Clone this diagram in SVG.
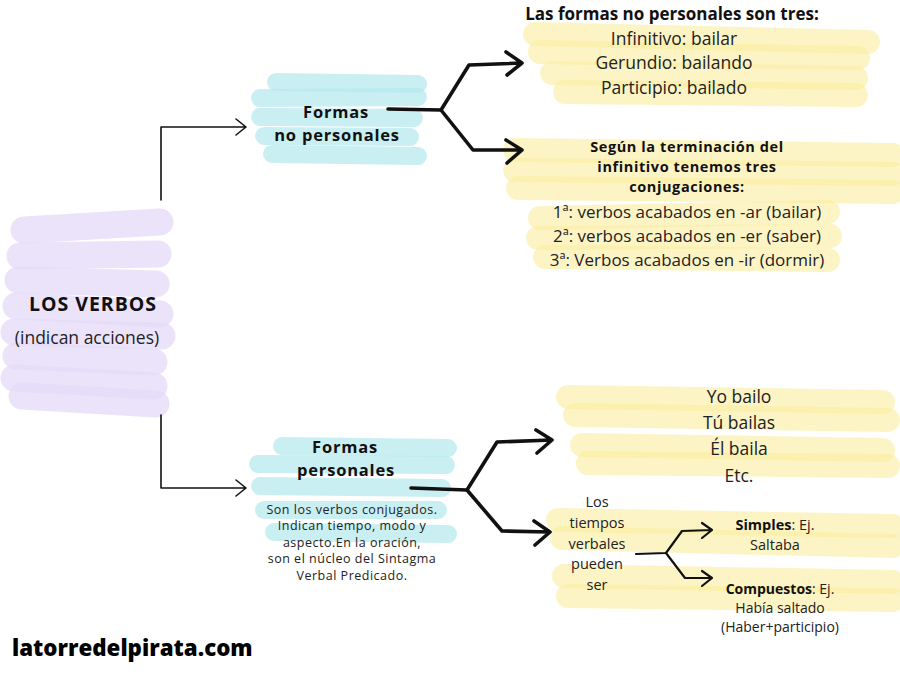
<svg xmlns="http://www.w3.org/2000/svg" width="900" height="675" viewBox="0 0 900 675">
<style>
text{font-family:"Open Sans","Liberation Sans",sans-serif;fill:#222;text-anchor:middle}
.b{font-weight:700;fill:#111}
.hp line{stroke:#e6ddf8;stroke-width:27;stroke-linecap:round;opacity:.8}
.hb line{stroke:#b5e9ef;stroke-width:18;stroke-linecap:round;opacity:.7}
.hy line{stroke:#fcee9f;stroke-width:24;stroke-linecap:round;opacity:.6}
.thin{fill:none;stroke:#111;stroke-width:1.6;stroke-linecap:round;stroke-linejoin:round}
.thick{fill:none;stroke:#111;stroke-width:3.6;stroke-linecap:round;stroke-linejoin:round}
.med{fill:none;stroke:#111;stroke-width:2.2;stroke-linecap:round;stroke-linejoin:round}
</style>
<rect width="900" height="675" fill="#fff"/>

<g id="los-verbos">
<g class="hp">
<line x1="24" y1="230" x2="160" y2="222"/>
<line x1="20" y1="256" x2="158" y2="254"/>
<line x1="18" y1="280" x2="156" y2="284"/>
<line x1="16" y1="306" x2="160" y2="314"/>
<line x1="14" y1="332" x2="162" y2="336"/>
<line x1="16" y1="356" x2="154" y2="362"/>
<line x1="14" y1="378" x2="154" y2="386"/>
<line x1="22" y1="396" x2="156" y2="404"/>
</g>
<text x="93" y="311" class="b" font-size="19.5" letter-spacing="1">LOS VERBOS</text>
<text x="87" y="344" font-size="17.5">(indican acciones)</text>
</g>

<g id="formas-no-personales">
<g class="hb">
<line x1="276" y1="82" x2="418" y2="84"/>
<line x1="260" y1="98" x2="418" y2="97"/>
<line x1="260" y1="117" x2="414" y2="118"/>
<line x1="264" y1="136" x2="410" y2="137"/>
<line x1="272" y1="154" x2="418" y2="156"/>
</g>
<text x="336" y="118" class="b" font-size="16.5" letter-spacing="0.8">Formas</text>
<text x="337" y="141" class="b" font-size="16.5" letter-spacing="0.8">no personales</text>
</g>

<g id="formas-no-personales-lista">
<g class="hy">
<line x1="535" y1="34" x2="868" y2="42"/>
<line x1="540" y1="52" x2="858" y2="58"/>
<line x1="552" y1="73" x2="856" y2="78"/>
<line x1="565" y1="92" x2="856" y2="95"/>
</g>
<text x="672" y="20" class="b" font-size="17">Las formas no personales son tres:</text>
<text x="674" y="45" font-size="17.5">Infinitivo: bailar</text>
<text x="674" y="69" font-size="17.5">Gerundio: bailando</text>
<text x="674" y="94" font-size="17.5">Participio: bailado</text>
</g>

<g id="conjugaciones">
<g class="hy">
<line x1="515" y1="150" x2="893" y2="155"/>
<line x1="515" y1="170" x2="893" y2="174"/>
<line x1="518" y1="188" x2="893" y2="192"/>
<line x1="540" y1="218" x2="828" y2="212"/>
<line x1="538" y1="238" x2="830" y2="236"/>
<line x1="545" y1="257" x2="828" y2="260"/>
</g>
<text x="687" y="152" class="b" font-size="14.5" letter-spacing="0.6">Según la terminación del</text>
<text x="687" y="172" class="b" font-size="14.5" letter-spacing="0.6">infinitivo tenemos tres</text>
<text x="687" y="192" class="b" font-size="14.5" letter-spacing="0.6">conjugaciones:</text>
<text x="687" y="218" font-size="17">1ª: verbos acabados en -ar (bailar)</text>
<text x="687" y="242" font-size="17">2ª: verbos acabados en -er (saber)</text>
<text x="687" y="266" font-size="17">3ª: Verbos acabados en -ir (dormir)</text>
</g>

<g id="formas-personales">
<g class="hb">
<line x1="282" y1="446" x2="448" y2="448"/>
<line x1="258" y1="464" x2="446" y2="465"/>
<line x1="260" y1="486" x2="442" y2="488"/>
<line x1="264" y1="510" x2="438" y2="510"/>
<line x1="274" y1="532" x2="448" y2="534"/>
</g>
<text x="345" y="453" class="b" font-size="16.5" letter-spacing="0.8">Formas</text>
<text x="346" y="476" class="b" font-size="16.5" letter-spacing="0.8">personales</text>
<text x="352" y="514" font-size="12.5" letter-spacing="0.5">Son los verbos conjugados.</text>
<text x="352" y="530" font-size="12.5" letter-spacing="0.5">Indican tiempo, modo y</text>
<text x="352" y="547" font-size="12.5" letter-spacing="0.5">aspecto.En la oración,</text>
<text x="352" y="563" font-size="12.5" letter-spacing="0.5">son el núcleo del Sintagma</text>
<text x="352" y="580" font-size="12.5" letter-spacing="0.5">Verbal Predicado.</text>
</g>

<g id="ejemplos-personas">
<g class="hy">
<line x1="568" y1="397" x2="883" y2="402"/>
<line x1="575" y1="415" x2="888" y2="420"/>
<line x1="582" y1="445" x2="883" y2="450"/>
<line x1="588" y1="463" x2="888" y2="466"/>
</g>
<text x="739" y="403" font-size="17.5">Yo bailo</text>
<text x="739" y="429" font-size="17.5">Tú bailas</text>
<text x="739" y="455" font-size="17.5">Él baila</text>
<text x="739" y="482" font-size="17.5">Etc.</text>
</g>

<g id="tiempos-verbales">
<g class="hy">
<line x1="558" y1="520" x2="893" y2="526"/>
<line x1="562" y1="538" x2="893" y2="546"/>
<line x1="564" y1="576" x2="893" y2="582"/>
<line x1="568" y1="596" x2="893" y2="600"/>
</g>
<text x="597" y="507" font-size="14.5">Los</text>
<text x="597" y="528" font-size="14.5">tiempos</text>
<text x="597" y="549" font-size="14.5">verbales</text>
<text x="597" y="569" font-size="14.5">pueden</text>
<text x="597" y="590" font-size="14.5">ser</text>
</g>

<g id="simples">
<text x="775" y="530" font-size="14.5"><tspan font-weight="700" fill="#111">Simples</tspan>: Ej.</text>
<text x="775" y="550" font-size="14.5">Saltaba</text>
</g>

<g id="compuestos">
<text x="780" y="594" font-size="14"><tspan font-weight="700" fill="#111">Compuestos</tspan>: Ej.</text>
<text x="780" y="613" font-size="14">Había saltado</text>
<text x="780" y="632" font-size="14">(Haber+participio)</text>
</g>

<g id="footer">
<text x="12" y="656" font-family="Lato,'Open Sans',sans-serif" font-weight="900" font-size="22.3" style="text-anchor:start;fill:#000">latorredelpirata.com</text>
</g>

<g id="connectors">
<path class="thin" d="M161,200 V127 H246 M236,119 L246,127 L236,135"/>
<path class="thin" d="M161,415 V488 H246 M236,480 L246,488 L236,496"/>
<path class="thick" d="M388,109 L441,110 L469,65 L522,63 M506,52 L522,63 L507,75"/>
<path class="thick" d="M441,110 L473,150 L522,150 M506,140 L522,150 L507,163"/>
<path class="thick" d="M411,488 L467,490 L497,442 L552,440 M536,430 L552,440 L537,453"/>
<path class="thick" d="M467,490 L502,531 L550,532 M534,521 L550,532 L535,545"/>
<path class="med" d="M636,554 L666,553 L682,531 L712,530 M702,523 L712,530 L702,538"/>
<path class="med" d="M666,553 L685,578 L712,578 M702,571 L712,578 L702,586"/>
</g>
</svg>
